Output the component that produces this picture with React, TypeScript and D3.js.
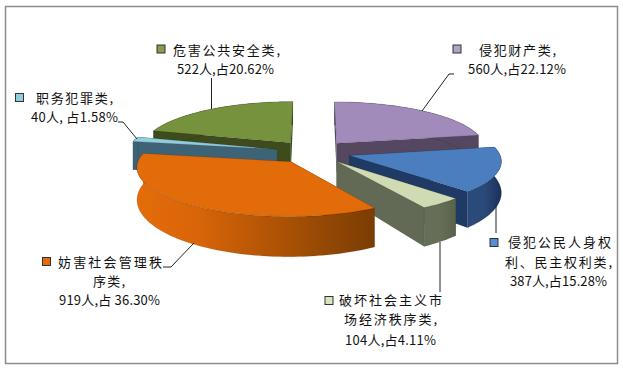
import React from "react";
import * as d3 from "d3";

const categories = ["侵犯财产类", "侵犯公民人身权利、民主权利类", "破坏社会主义市场经济秩序类", "妨害社会管理秩序类", "职务犯罪类", "危害公共安全类"];
const values = [560, 387, 104, 919, 40, 522];
const topColors = ["#A08BBB", "#4A7EBF", "#CFDBB3", "#E36C0A", "#92CDDC", "#76923C"];
const cutColors = ["#54475F", "#1F3A64", "#626A55", "#A85006", "#3E6377", "#3E4B1C"];
const wallFrom = ["#54475F", "#2A4A7A", "#666E58", "#E46C0A", "#3E6377", "#3E4B1C"];
const wallTo = ["#54475F", "#1B3158", "#5A624C", "#7A3D03", "#3E6377", "#3E4B1C"];
const swatches = ["#B3A2C7", "#558ED5", "#D7E4BD", "#E46C0A", "#93CDDD", "#8A9A4E"];
const drawOrder = [0, 5, 4, 1, 2, 3];

const labelLines = [
  ["侵犯财产类,", "560人,占22.12%"],
  ["侵犯公民人身权", "利、民主权利类,", "387人,占15.28%"],
  ["破坏社会主义市", "场经济秩序类,", "104人,占4.11%"],
  ["妨害社会管理秩", "序类,", "919人,占 36.30%"],
  ["职务犯罪类,", "40人, 占1.58%"],
  ["危害公共安全类,", "522人,占20.62%"],
];
// [centre x, baseline y, width] for each line of a label
const labelBoxes = [
  [[517.5, 55, 77], [517, 74, 98]],
  [[559.5, 247, 103], [558.5, 267, 107], [558.5, 286, 97]],
  [[390.5, 305, 103], [390.5, 324, 93], [390.5, 345, 91]],
  [[110, 267, 104], [109, 286, 32], [109.5, 305, 101]],
  [[74.5, 103, 77], [74.5, 122, 87]],
  [[226.5, 55, 107], [225.5, 74, 97]],
];
const swatchAt = [[453, 45], [490, 238.5], [325, 296.5], [42.5, 257.5], [15.5, 93.5], [157, 45]];
const leaders = [
  [[454, 74], [449, 74], [422, 111]],
  [[496, 205], [496, 233]],
  [[440, 242], [440, 292]],
  [[163, 267], [171, 267], [194, 243]],
  [[118, 122], [123, 122], [137, 139]],
  [[211.5, 78], [211.5, 109]],
];

const cx = 313, cy = 152, A = 150, B = 47, explode = 0.25, persp = 0.1;
const depthAt = (s: number) => 30 * Math.pow(s, 2.3);

const pie = d3.pie<number>().sort(null).value((d) => d);
const arcs = pie(values);

type P = [number, number];
const project = (X: number, Z: number, down: boolean): P => {
  const s = 1 / (1 + persp * Z);
  return [cx + A * X * s, cy - B * Z * s + (down ? depthAt(s) : 0)];
};
const line = d3.line<P>();

function slice(i: number) {
  const a = arcs[i];
  const mid = (a.startAngle + a.endAngle) / 2;
  const ox = explode * Math.sin(mid), oz = explode * Math.cos(mid);
  const rim = (t: number, down: boolean) => project(ox + Math.sin(t), oz + Math.cos(t), down);
  const n = Math.max(2, Math.ceil((a.endAngle - a.startAngle) / 0.03));
  const ts = d3.range(n + 1).map((k) => a.startAngle + ((a.endAngle - a.startAngle) * k) / n);
  const apexT = project(ox, oz, false), apexB = project(ox, oz, true);
  const top = line([apexT, ...ts.map((t) => rim(t, false))])! + "Z";
  const wall = line([...ts.map((t) => rim(t, false)), ...ts.slice().reverse().map((t) => rim(t, true))])! + "Z";
  const cut = (t: number) => line([apexT, rim(t, false), rim(t, true), apexB])! + "Z";
  const xs = [...ts.map((t) => rim(t, false)[0])];
  return { top, wall, cutA: cut(a.startAngle), cutB: cut(a.endAngle), x0: d3.min(xs)!, x1: d3.max(xs)! };
}

export default function App() {
  const shapes = categories.map((_, i) => slice(i));
  return (
    <svg width={623} height={369} style={{ position: "absolute", left: 0, top: 0, background: "#fff" }}
      fontFamily="'Noto Sans CJK SC', sans-serif">
      <defs>
        {shapes.map((s, i) => (
          <linearGradient key={i} id={`w${i}`} gradientUnits="userSpaceOnUse" x1={s.x0} x2={s.x1} y1={0} y2={0}>
            <stop offset="0" stopColor={wallFrom[i]} />
            <stop offset={i === 3 ? 0.25 : 0.5} stopColor={i === 3 ? "#D96508" : wallFrom[i]} />
            <stop offset="1" stopColor={wallTo[i]} />
          </linearGradient>
        ))}
      </defs>
      <rect x={5.5} y={6.5} width={612} height={357} fill="#fff" stroke="#8C8C8C" strokeWidth={1.5} />
      {drawOrder.map((i) => {
        const s = shapes[i];
        return (
          <g key={i}>
            <path d={s.cutA} fill={cutColors[i]} />
            <path d={s.cutB} fill={cutColors[i]} />
            <path d={s.wall} fill={`url(#w${i})`} stroke="#000" strokeOpacity={0.2} strokeWidth={0.5} />
            <path d={s.top} fill={topColors[i]} stroke="#000" strokeOpacity={0.25} strokeWidth={0.5} />
          </g>
        );
      })}
      {leaders.map((l, i) => (
        <path key={i} d={line(l as P[])!} fill="none" stroke="#222" strokeWidth={1} />
      ))}
      {swatchAt.map((p, i) => (
        <rect key={i} x={p[0]} y={p[1]} width={8} height={8} fill={swatches[i]} stroke="#333" strokeWidth={1} />
      ))}
      {labelLines.map((lines, i) =>
        lines.map((t, j) => (
          <text key={`${i}-${j}`} x={labelBoxes[i][j][0]} y={labelBoxes[i][j][1]} textAnchor="middle"
            fontSize={13} fill="#111" textLength={labelBoxes[i][j][2]} lengthAdjust="spacing">{t}</text>
        ))
      )}
    </svg>
  );
}
